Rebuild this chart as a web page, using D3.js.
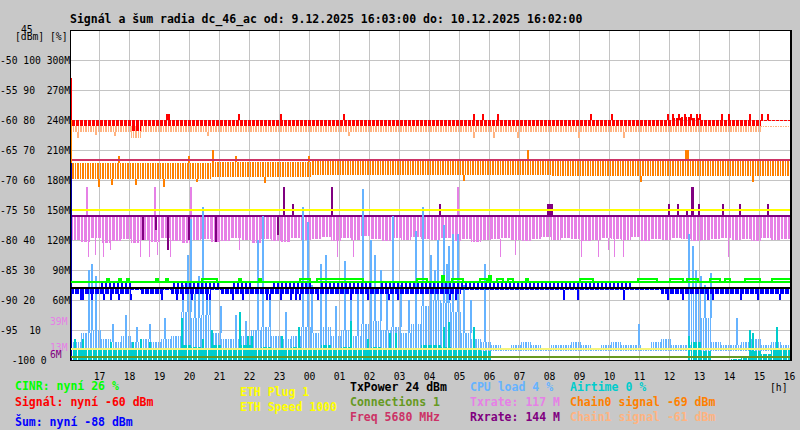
<!DOCTYPE html>
<html>
<head>
<meta charset="utf-8">
<script src="https://cdn.jsdelivr.net/npm/d3@7"></script>
<style>
  body { margin: 0; background: #c8c8c8; }
  svg { display: block; }
  text { font-family: "DejaVu Sans Mono", "Liberation Mono", monospace; }
</style>
</head>
<body>
<div id="chart"></div>
<script>
// ---- time axis: hours counted from 9.12. 00:00, samples every 20 min from 16:03 ----
const sampleStart = 16.05;
const sampleStep = 1 / 3;
const hourTicks = [17,18,19,20,21,22,23,24,25,26,27,28,29,30,31,32,33,34,35,36,37,38,39,40];
const hourLabels = ["17","18","19","20","21","22","23","00","01","02","03","04","05","06","07","08","09","10","11","12","13","14","15","16"];

// ---- left axis ----
const yLevels = [-50, -55, -60, -65, -70, -75, -80, -85, -90, -95, -100];
const yLabels = ["-50 100 300M", "-55 90  270M", "-60 80  240M", "-65 70  210M", "-70 60  180M",
  "-75 50  150M", "-80 40  120M", "-85 30   90M", "-90 20   60M", "-95  10     ", "  -100 0    "];

// ---- signal (dBm) band per 20 min ----
const signalHi = [-60,-60,-60,-60,-60,-60,-60,-60,-60,-60,-60,-60,-60,-60,-60,-60,-60,-60,-60,-60,-60,-60,-60,-60,
  -60,-60,-60,-60,-60,-60,-60,-60,-60,-60,-60,-60,-60,-60,-60,-60,-60,-60,-60,-60,-60,-60,-60,-60,
  -60,-60,-60,-60,-60,-60,-60,-60,-60,-60,-60,-60,-59.7,-59.5,-59.7,-60,-60,-60,-60,-60,-60,-60,-60,-60];
const signalLo = [-61,-61,-61,-61,-61,-61,-61.8,-61,-61,-61,-61,-61,-61,-61,-61,-61,-61,-61,-61,-61,-61,-61,-61,-61,
  -61,-61,-61,-61,-61,-61,-61,-61,-61,-61,-61,-61,-61,-61,-61,-61,-61,-61,-61,-61,-61,-61,-61,-61,
  -61,-61,-61,-61,-61,-61,-61,-61,-61,-61,-61,-61,-61,-61,-61,-61,-61,-61,-61,-61,-61,-60.2,-60.2,-60.2];
const signalSpikes = [[19.22,-59],[19.3,-59],[21.62,-59],[23.02,-59],[25.12,-59],[29.45,-59],[29.75,-59],[30.28,-59],
  [33.35,-59],[34.05,-59],[35.92,-59],[36.1,-59],[36.3,-59],[36.5,-59],[36.7,-59],[36.9,-59],[37.0,-59],
  [37.72,-59],[37.98,-59],[38.65,-59],[39.08,-59],[39.25,-59]];

// ---- chain1 signal (dBm) ----
const chain1Hi = [-61,-61,-61,-61,-61,-61,-61,-61,-61,-61,-61,-61,-61,-61,-61,-61,-61,-61,-61,-61,-61,-61,-61,-61,
  -61,-61,-61,-61,-61,-61,-61,-61,-61,-61,-61,-61,-61,-61,-61,-61,-61,-61,-61,-61,-61,-61,-61,-61,
  -61,-61,-61,-61,-61,-61,-61,-61,-61,-61,-61,-61,-61,-61,-61,-61,-61,-61,-61,-61,-61,-61,-61,-61];
const chain1Lo = [-62,-62,-62,-62,-62,-62,-63,-62,-62,-62,-62,-62,-62,-62,-62,-62,-62,-62,-62,-62,-62,-62,-62,-62,
  -62,-62,-62,-62,-62,-62,-62,-62,-62,-62,-62,-62,-62,-62,-62,-62,-62,-62,-62,-62,-62,-62,-62,-62,
  -62,-62,-62,-62,-62,-62,-62,-62,-62,-62,-62,-62,-62,-62,-62,-62,-62,-62,-62,-62,-62,-61.2,-61.2,-61.2];
const chain1Spikes = [[16.28,-63],[16.85,-62.5],[17.5,-62.7],[20.6,-62.7],[25.3,-62.7],[29.45,-63],[30.12,-63,4],
  [30.92,-63],[32.95,-63],[34.48,-63]];

// ---- chain0 signal (dBm) ----
const chain0Hi = [-67.2,-67.2,-67.2,-67.2,-67.2,-67.2,-67.2,-67.2,-67.2,-67.2,-67.2,-67.2,-67.2,-67.2,
  -67,-67,-67,-67,-67,-67,-67,-67,-67,-67,
  -66.7,-66.7,-66.7,-66.7,-66.7,-66.7,-66.7,-66.7,-66.7,-66.7,-66.7,-66.7,-66.7,-66.7,-66.7,-66.7,-66.7,-66.7,-66.7,-66.7,-66.7,-66.7,-66.7,-66.7,
  -66.8,-66.8,-66.8,-66.8,-66.8,-66.8,-66.8,-66.8,-66.8,-66.8,-66.8,-66.8,-66.8,-66.8,-66.8,-66.8,-66.8,-66.8,-66.8,-66.8,-66.8,-66.8,-66.8,-66.8];
const chain0Lo = [-69.8,-69.8,-69.8,-69.8,-69.8,-69.8,-69.8,-69.8,-69.8,-69.8,-69.8,-69.8,-69.8,-69.8,
  -69.5,-69.5,-69.5,-69.5,-69.5,-69.5,-69.5,-69.5,-69.5,-69.5,
  -69.2,-69.2,-69.2,-69.2,-69.2,-69.2,-69.2,-69.2,-69.2,-69.2,-69.2,-69.2,-69.2,-69.2,-69.2,-69.2,-69.2,-69.2,-69.2,-69.2,-69.2,-69.2,-69.2,-69.2,
  -69.3,-69.3,-69.3,-69.3,-69.3,-69.3,-69.3,-69.3,-69.3,-69.3,-69.3,-69.3,-69.3,-69.3,-69.3,-69.3,-69.3,-69.3,-69.3,-69.3,-69.3,-69.3,-69.3,-69.3];
const chain0Up = [[17.65,-66],[19.95,-66],[20.78,-65],[21.52,-66],[23.95,-66],[31.28,-65],[36.52,-65,8]];
const chain0Down = [[16.98,-71.2],[17.4,-70.8],[18.2,-70.8],[19.12,-71.2],[20.25,-70.3],[22.5,-70.5],[29.12,-70.2],
  [35.02,-70.3],[38.75,-70.3]];

// first sample of each trace jumps in from its start value: [from, to, colour]
const firstSample = [[-53, -60, "#ff0000"], [-60, -67.2, "#ff8000"], [-67.2, -100, "#0000aa"]];

// ---- constant levels (drawn on dBm scale) ----
const freqLevel = -66.67;
const ethSpeedLevel = -75;
const txPowerLevel = -88;
const ethPlugLevel = -98.2;
const connectionsLevel = -99.5;

// ---- rx / tx rate (M) ----
const rxRate = 144;
const rxSpikes = [[23.12,173],[23.42,156],[24.72,173],[28.32,156],[31.92,156,8],[32.08,156],[35.98,156],
  [36.28,156],[36.58,150],[36.72,173,6],[36.95,156],[37.78,156],[38.32,156],[39.28,156,4]];
const rxDips = [[18.45,120],[18.85,130],[19.28,110],[19.95,120],[20.88,118],[22.92,125]];
const txLo = [120,118,122,117,119,121,117,120,118,122,119,117,
  120,121,118,119,122,120,117,121,119,118,122,120,
  121,123,119,122,120,124,121,119,122,120,123,121,
  120,122,119,121,118,120,121,122,120,119,121,123,
  120,122,121,119,120,122,121,120,123,119,121,120,
  122,121,119,120,121,122,120,121,119,122,120,121];
const txUp = [[16.58,173],[18.82,173],[20.02,173],[28.92,173,4]];
const txDrops = [[16.62,103],[16.85,105],[17.12,103],[17.35,110],[18.35,103],[18.68,103],[18.95,105],[19.35,103],
  [21.68,110],[24.92,103],[25.45,103],[30.35,103],[30.85,105],[33.08,103],[33.62,103],[33.95,110],
  [34.18,103],[34.45,103],[37.95,103]];

// ---- CINR (%) ----
const cinrBase = 26;
const cinrBumps = [[17.25,17.32,27],[17.65,17.72,27],[17.92,17.98,27],[18.88,18.95,27],[19.22,19.28,27],
  [20.42,20.92,27],[21.65,21.72,27],[22.32,22.38,27],[23.68,24.02,27],[24.25,25.78,27],[27.58,27.92,27],
  [28.42,28.48,28],[28.75,29.12,27],[29.68,29.92,27],[29.98,30.05,28],[30.25,30.45,27],[30.62,30.78,27],
  [31.22,31.28,27],[33.02,33.45,27],[34.95,35.58,27],[36.02,36.45,27],[36.58,36.95,27],[37.35,37.68,27],
  [37.85,38.02,27],[38.52,39.02,27],[39.42,40.05,27]];

// ---- noise (dBm): upper edge, lower edge ----
const noiseHi = [-88,-88,-88,-87.2,-87.2,-87.2,-88,-88,-88,-88,-87.2,-87.2,-87.2,-87.2,-87.2,-88,-87.2,-87.2,
  -88,-88,-87.2,-87.2,-87.2,-87.2,-88,-87.2,-87.2,-87.2,-87.2,-87.2,-88,-87.2,-87.2,-87.2,-87.2,-87.2,
  -87.2,-87.2,-87.2,-87.2,-87.2,-87.2,-87.2,-87.2,-87.2,-87.2,-87.2,-87.2,-87.2,-87.2,-87.2,-87.2,-87.2,-87.2,
  -87.2,-87.2,-88,-88,-88,-88,-88,-88,-88,-88,-88,-88,-88,-88,-88,-88,-88,-88];
const noiseLo = [-89,-89,-89,-89,-89,-89,-88.3,-89,-89,-88.3,-89,-89,-89,-89,-88.3,-89,-89,-89,
  -89,-89,-89,-89,-89,-89,-89,-89,-89,-89,-89,-89,-89,-89,-89,-89,-89,-89,
  -89,-89,-89,-88.3,-88.3,-88.3,-88.3,-88.3,-88.3,-88.3,-88.3,-88.3,-88.3,-88.3,-88.3,-88.3,-88.3,-88.3,
  -88.3,-88.3,-88.3,-88.3,-88.3,-89,-89,-89,-89,-89,-89,-89,-89,-89,-89,-89,-89,-89];
const noiseSpikes = [16.35,16.45,16.75,17.12,17.35,17.62,18.02,19.08,19.58,19.78,20.08,20.58,20.68,21.42,21.75,
  22.58,22.68,23.02,23.35,23.52,23.68,24.25,25.35,25.95,26.62,26.92,28.68,28.85,32.45,32.92,34.45,
  35.92,36.42,37.25,37.42,38.35,38.92,39.68];
const noiseSpikeLevel = -90;

// ---- CPU load (%) ----
const cpuLo = [3,3,3,3,3,3,3,3,3,3,3,3,3,3,3,3,3,3,3,3,3,3,3,3,3,3,3,3,3,3,3,3,3,3,3,3,3,3,3,3,3,3,
  3,3,3,3,3,3,3,3,3,3,3,3,3,3,3,3,3,3,3,3,3,3,3,3,3,3,3,3,3,3];
const cpuHi = [6,9,10,7,6,8,6,7,6,7,8,16,14,15,9,7,7,8,10,11,8,7,8,11,9,11,8,10,8,12,13,10,
  11,9,12,18,20,19,16,9,7,6,
  5,4,5,6,5,4,5,5,6,5,4,5,6,5,5,4,6,7,5,5,22,14,6,5,5,6,7,5,6,5];
const cpuSpikes = [[16.62,30],[16.72,32],[16.85,28],[17.45,12],[17.85,15],[18.25,11],[18.68,12],[19.18,14],
  [19.78,25],[19.92,35],[20.02,47],[20.18,22],[20.3,28],[20.45,51],[20.58,24],[20.68,22],[21.02,18],
  [21.52,15],[21.85,13],[22.28,40],[22.42,48],[22.68,20],[23.2,16],[23.78,51],[23.92,46],[24.08,25],
  [24.35,32],[24.52,35],[24.85,18],[25.18,33],[25.35,20],[25.6,22],[25.78,57],[26.02,40],[26.18,35],
  [26.35,30],[26.55,22],[26.78,48],[27.02,25],[27.3,20],[27.52,43],[27.78,51],[28.02,35],[28.15,30],
  [28.25,40],[28.45,45],[28.55,32],[28.62,38],[28.75,42],[28.92,42],[29.12,25],[29.35,20],[29.82,32],
  [34.95,12],[36.62,42],[36.75,38],[36.85,30],[37.02,28],[37.15,25],[37.35,29],[38.22,14]];

// ---- airtime (%) ----
const airtime = [4,4,3.5,4,4,3.5,4,4,4,3.5,4,5,4.5,4,5,4,4,5,4,4.5,4,4,4.5,4,4,5,4,4.5,4,4,4.5,4,4,4,4,5,5,4.5,4,4,4,3,
  0,0,0,0,0,0,0,0,0,0,0,0,0,0,0,0,0,0,0,0,6,3,0,0,0.5,1,3,2,3.5,4];
const airtimeSpikes = [[16.18,7],[16.45,7],[17.35,6],[18.1,6],[18.35,7],[18.68,6],[19.75,14],[20.42,7],
  [20.72,10],[21.68,16],[21.92,8],[22.08,8],[23.08,8],[23.62,11],[25.35,13],[25.95,7],[26.68,9],[26.85,9],
  [28.45,11],[28.62,12.7],[29.45,11],[36.62,8],[38.65,10],[38.78,9],[39.58,11]];

// ---- legend ----
const legendItems = [
  { text: "CINR: nyní 26 %", color: "#00ff00", x: 15, y: 390 },
  { text: "Signál: nyní -60 dBm", color: "#ff0000", x: 15, y: 406 },
  { text: "Šum: nyní -88 dBm", color: "#0000ff", x: 15, y: 425.5 },
  { text: "ETH Plug 1", color: "#ffff00", x: 240, y: 396 },
  { text: "ETH Speed 1000", color: "#ffff00", x: 240, y: 411 },
  { text: "TxPower 24 dBm", color: "#000000", x: 350, y: 390.5 },
  { text: "Connections 1", color: "#669922", x: 350, y: 405.5 },
  { text: "Freq 5680 MHz", color: "#cc3366", x: 350, y: 420.5 },
  { text: "CPU load 4 %", color: "#66b3ff", x: 470, y: 390.5 },
  { text: "Txrate: 117 M", color: "#e680e6", x: 470, y: 405.5 },
  { text: "Rxrate: 144 M", color: "#800080", x: 470, y: 420.5 },
  { text: "Airtime 0 %", color: "#00cccc", x: 570, y: 390.5 },
  { text: "Chain0 signal -69 dBm", color: "#ff8000", x: 570, y: 405.5 },
  { text: "Chain1 signal -61 dBm", color: "#ffb380", x: 570, y: 420.5 }
];

// ---- scales ----
const width = 800, height = 430;
const x = d3.scaleLinear().domain([sampleStart, sampleStart + 24]).range([71, 791]);
const yDbm = d3.scaleLinear().domain([-45, -100]).range([30, 360]);
const yPct = d3.scaleLinear().domain([0, 110]).range([360, 30]);
const yRate = d3.scaleLinear().domain([0, 330]).range([360, 30]);

const svg = d3.select("#chart").append("svg").attr("width", width).attr("height", height);
svg.append("rect").attr("width", width).attr("height", height).attr("fill", "#c8c8c8");

// vertical stripe patterns imitate the dense 2-minute step texture
const defs = svg.append("defs");
function makePattern(id, color, period, cols) {
  const p = defs.append("pattern")
    .attr("id", id)
    .attr("patternUnits", "userSpaceOnUse")
    .attr("width", period).attr("height", 4);
  cols.forEach((c) => p.append("rect").attr("x", c).attr("width", 1).attr("height", 4).attr("fill", color));
  return `url(#${id})`;
}
const fillSignal = makePattern("pSignal", "#ff0000", 4, [0, 1, 2]);
const fillChain1 = makePattern("pChain1", "#ffb380", 5, [0, 1, 3]);
const fillChain0 = makePattern("pChain0", "#ff8000", 5, [0, 2, 3]);
const fillTx = makePattern("pTx", "#e680e6", 7, [0, 1, 2, 4, 5]);
const fillNoiseUp = makePattern("pNoiseUp", "#0000ff", 4, [1, 2]);
const fillNoiseLo = makePattern("pNoiseLo", "#0000ff", 5, [0, 1, 2, 3]);
const fillCpu = makePattern("pCpu", "#66b3ff", 5, [0, 1, 3]);
const fillAir = makePattern("pAir", "#00cccc", 5, [0, 1, 3, 4]);

// white plot area
svg.append("rect")
  .attr("x", 70).attr("y", 30)
  .attr("width", x.range()[1] - 70).attr("height", 330)
  .attr("fill", "#ffffff");

// grid
const grid = svg.append("g").attr("shape-rendering", "crispEdges").attr("stroke", "#c4c4c4");
grid.selectAll("line.v").data(hourTicks.slice(0, -1)).join("line")
  .attr("x1", (d) => Math.floor(x(d)) + 0.5).attr("x2", (d) => Math.floor(x(d)) + 0.5)
  .attr("y1", 30).attr("y2", 360);
grid.selectAll("line.h").data(yLevels.slice(0, -1)).join("line")
  .attr("x1", 70).attr("x2", 791)
  .attr("y1", (d) => yDbm(d) + 0.5).attr("y2", (d) => yDbm(d) + 0.5);

const plot = svg.append("g").attr("shape-rendering", "crispEdges");

// turn sample arrays into step points
function toSteps(lo, hi) {
  const pts = lo.map((v, i) => ({ t: sampleStart + i * sampleStep, lo: v, hi: Array.isArray(hi) ? hi[i] : hi }));
  const last = pts[pts.length - 1];
  pts.push({ t: sampleStart + lo.length * sampleStep, lo: last.lo, hi: last.hi });
  return pts;
}

// filled band between two series
function drawBand(lo, hi, yScale, fill) {
  const area = d3.area()
    .x((d) => x(d.t))
    .y0((d) => yScale(d.lo))
    .y1((d) => yScale(d.hi))
    .curve(d3.curveStepAfter);
  plot.append("path").datum(toSteps(lo, hi)).attr("d", area).attr("fill", fill);
}

// sample value at a given hour
function valueAt(arr, h) {
  const i = Math.max(0, Math.min(arr.length - 1, Math.floor((h - sampleStart) / sampleStep)));
  return arr[i];
}

// vertical spikes from a base to a value, [hour, value, minutes]
function drawSpikes(list, yScale, baseFn, color, minWidth) {
  plot.append("g").selectAll("rect").data(list).join("rect")
    .attr("x", (d) => Math.floor(x(d[0])))
    .attr("width", (d) => Math.max(minWidth, Math.round(x(d[0] + (d[2] || 0) / 60) - x(d[0]))))
    .attr("y", (d) => Math.round(Math.min(yScale(d[1]), yScale(baseFn(d[0])))))
    .attr("height", (d) => Math.max(1, Math.round(Math.abs(yScale(d[1]) - yScale(baseFn(d[0]))))))
    .attr("fill", color);
}

// 2px horizontal level line
function drawLevel(value, yScale, color) {
  plot.append("rect")
    .attr("x", x.range()[0]).attr("width", x.range()[1] - x.range()[0])
    .attr("y", Math.round(yScale(value)) - 1).attr("height", 2)
    .attr("fill", color);
}

// chain1 / signal / chain0
drawBand(chain1Lo, chain1Hi, yDbm, fillChain1);
drawSpikes(chain1Spikes, yDbm, () => -62, "#ffb380", 2);
drawBand(signalLo, signalHi, yDbm, fillSignal);
drawSpikes(signalSpikes, yDbm, () => -60, "#ff0000", 2);
drawBand(chain0Lo, chain0Hi, yDbm, fillChain0);
drawSpikes(chain0Up, yDbm, (h) => valueAt(chain0Hi, h), "#ff8000", 2);
drawSpikes(chain0Down, yDbm, (h) => valueAt(chain0Lo, h), "#ff8000", 2);
drawLevel(freqLevel, yDbm, "#cc3366");

// tx / rx rates
drawBand(txLo, rxRate, yRate, fillTx);
drawSpikes(txDrops, yRate, (h) => valueAt(txLo, h), "#e680e6", 1);
drawSpikes(txUp, yRate, () => rxRate, "#e680e6", 2);
drawSpikes(rxDips, yRate, () => rxRate, "#800080", 2);
drawSpikes(rxSpikes, yRate, () => rxRate, "#800080", 2);
drawLevel(rxRate, yRate, "#800080");

// CPU load and airtime
drawBand(cpuLo, cpuHi, yPct, fillCpu);
drawSpikes(cpuSpikes, yPct, (h) => valueAt(cpuHi, h), "#66b3ff", 2);
drawBand(airtime, 0, yPct, fillAir);
drawSpikes(airtimeSpikes, yPct, () => 0, "#00cccc", 2);

drawLevel(ethSpeedLevel, yDbm, "#ffff00");

// noise: part above and below the -88 dBm line
drawBand(noiseHi.map(() => txPowerLevel), noiseHi, yDbm, fillNoiseUp);
drawBand(noiseLo, noiseLo.map(() => txPowerLevel), yDbm, fillNoiseLo);
drawSpikes(noiseSpikes.map((h) => [h, noiseSpikeLevel]), yDbm, (h) => valueAt(noiseLo, h), "#0000ff", 2);

// 1px column of the first samples at the left edge
plot.append("g").selectAll("rect").data(firstSample).join("rect")
  .attr("x", x(sampleStart)).attr("width", 1)
  .attr("y", (d) => yDbm(d[0]))
  .attr("height", (d) => yDbm(d[1]) - yDbm(d[0]))
  .attr("fill", (d) => d[2]);

drawLevel(txPowerLevel, yDbm, "#000000");

// CINR
drawLevel(cinrBase, yPct, "#00ff00");
const bumpLine = d3.line().x((d) => x(d[0])).y((d) => Math.round(yPct(d[1])));
plot.append("g").selectAll("path").data(cinrBumps).join("path")
  .attr("d", (d) => bumpLine([[d[0], cinrBase], [d[0], d[2]], [d[1], d[2]], [d[1], cinrBase]]))
  .attr("fill", "none").attr("stroke", "#00ff00").attr("stroke-width", 2);

drawLevel(ethPlugLevel, yDbm, "#f4f47a");
drawLevel(connectionsLevel, yDbm, "#669922");

// frame
const frame = svg.append("g").attr("shape-rendering", "crispEdges").attr("stroke", "#000");
frame.append("line").attr("x1", 70).attr("x2", 792).attr("y1", 30.5).attr("y2", 30.5);
frame.append("line").attr("x1", 70).attr("x2", 792).attr("y1", 360.5).attr("y2", 360.5);
frame.append("line").attr("x1", 70.5).attr("x2", 70.5).attr("y1", 30).attr("y2", 361);
frame.append("line").attr("x1", 791).attr("x2", 791).attr("y1", 30).attr("y2", 361).attr("stroke-width", 2);

// left axis labels
svg.append("g").selectAll("text").data(yLevels).join("text")
  .attr("x", 70).attr("y", (d) => yDbm(d) + 4)
  .attr("text-anchor", "end")
  .attr("font-size", "9.7px")
  .attr("fill", "#000")
  .style("white-space", "pre")
  .text((d, i) => yLabels[i]);
svg.append("text").attr("x", 21).attr("y", 33).attr("font-size", "9.7px").text("45");
svg.append("text").attr("x", 15).attr("y", 40).attr("font-size", "9.7px").text("[dBm] [%]");

// extra rate labels
const rateMarks = [[39, "#e680e6"], [13, "#e680e6"], [6, "#800080"]];
svg.append("g").selectAll("text").data(rateMarks).join("text")
  .attr("x", 50).attr("y", (d) => yRate(d[0]) + 4)
  .attr("font-size", "9.7px").attr("fill", (d) => d[1])
  .text((d) => d[0] + "M");

// hour labels
svg.append("g").selectAll("text").data(hourTicks).join("text")
  .attr("x", (d) => x(d)).attr("y", 380)
  .attr("text-anchor", "middle").attr("font-size", "9.7px")
  .text((d, i) => hourLabels[i]);
svg.append("text").attr("x", 770).attr("y", 391).attr("font-size", "9.7px").text("[h]");

// title
svg.append("text").attr("x", 70).attr("y", 22.5)
  .attr("font-size", "11.5px").attr("font-weight", "bold")
  .text("Signál a šum radia dc_46_ac od: 9.12.2025 16:03:00 do: 10.12.2025 16:02:00");

// legend
svg.append("g").selectAll("text").data(legendItems).join("text")
  .attr("x", (d) => d.x).attr("y", (d) => d.y)
  .attr("font-size", "11.5px").attr("font-weight", "bold")
  .attr("fill", (d) => d.color)
  .text((d) => d.text);
</script>
</body>
</html>
